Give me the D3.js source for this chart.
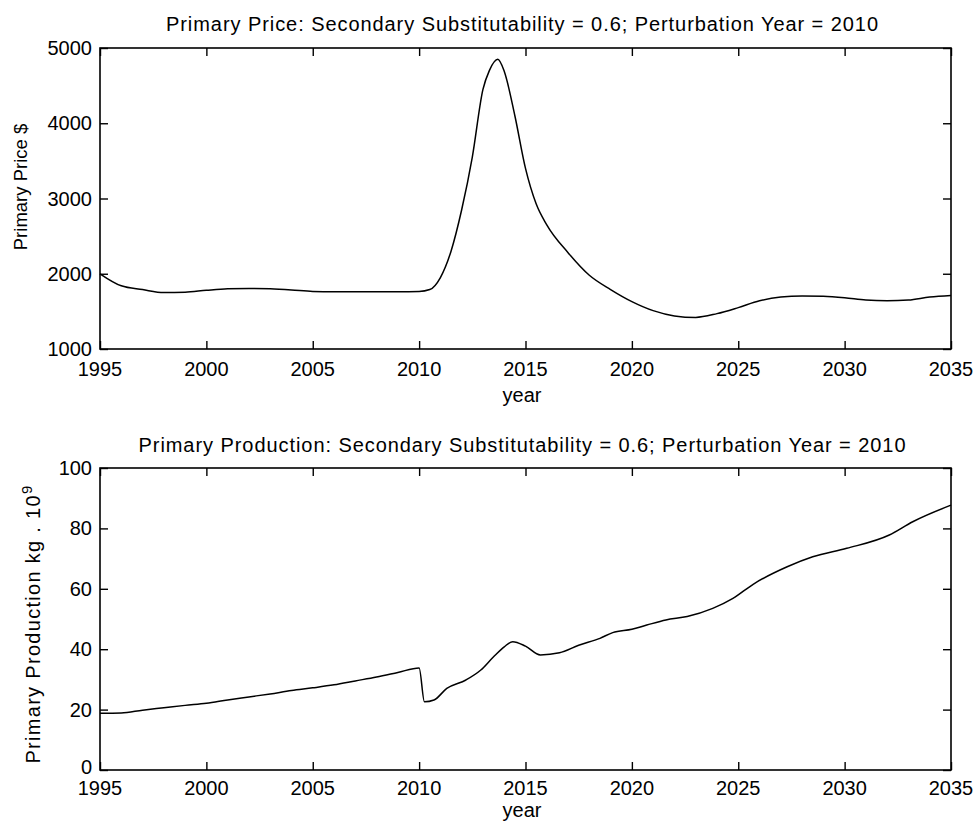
<!DOCTYPE html>
<html><head><meta charset="utf-8">
<script src="https://cdn.jsdelivr.net/npm/d3@7"></script>
<style>body{margin:0;background:#fff}svg{display:block}text{font-family:"Liberation Sans",Arial,sans-serif;fill:#000}</style>
</head><body>
<script>
const xTicks = [1995,2000,2005,2010,2015,2020,2025,2030,2035];
const priceTicks = [1000,2000,3000,4000,5000];
const prodTicks = [0,20,40,60,80,100];
const priceTitle = "Primary Price: Secondary Substitutability = 0.6; Perturbation Year = 2010";
const prodTitle = "Primary Production: Secondary Substitutability = 0.6; Perturbation Year = 2010";
const priceYears = [1995,1996,1997,1998,1999,2000,2001,2002,2003,2004,2005,2006,2007,2008,2009,2010,2010.5,2011,2011.5,2012,2012.5,2013,2013.3,2013.7,2014,2014.5,2015,2015.5,2016,2017,2018,2019,2020,2021,2022,2023,2024,2025,2026,2027,2028,2029,2030,2031,2032,2033,2034,2035];
const priceValues = [2000,1840,1790,1750,1755,1780,1800,1805,1800,1785,1765,1762,1762,1762,1762,1765,1790,1950,2300,2850,3550,4450,4700,4850,4690,4100,3400,2930,2650,2280,1980,1790,1630,1510,1440,1420,1470,1550,1640,1690,1705,1700,1680,1650,1640,1650,1690,1710];
const prodYears = [1995,1996,1997,1998,1999,2000,2001,2002,2003,2004,2005,2006,2007,2008,2009,2010,2010.25,2010.7,2011.3,2012.2,2012.9,2013.5,2014,2014.4,2015,2015.7,2016.6,2017.5,2018.5,2019.1,2020,2020.7,2021.6,2022.6,2023.8,2024.75,2025.7,2027.3,2028.5,2030.1,2032.1,2033.2,2035];
const prodValues = [18.8,18.9,19.8,20.6,21.4,22.1,23.2,24.2,25.2,26.3,27.2,28.2,29.5,30.8,32.3,33.8,22.6,23.2,27.0,29.8,33.1,37.5,40.8,42.5,41.0,38.1,38.8,41.3,43.6,45.5,46.6,48.0,49.7,50.8,53.5,56.8,61.5,67.3,70.6,73.4,77.8,82.2,87.7];

const W = 977, H = 831;
const svg = d3.select("body").append("svg").attr("width", W).attr("height", H);
const FS = 20;

function panel(cfg){
  const x = d3.scaleLinear().domain([1995,2035]).range([100,951]);
  const y = d3.scaleLinear().domain(cfg.ydomain).range([cfg.bottom, cfg.top]);
  const g = svg.append("g");
  const tl = 8;
  g.append("g").attr("transform",`translate(0,${cfg.bottom})`)
    .call(d3.axisTop(x).tickValues(xTicks).tickSize(tl).tickFormat(""))
    .call(a=>a.select(".domain").remove());
  g.append("g").attr("transform",`translate(0,${cfg.top})`)
    .call(d3.axisBottom(x).tickValues(xTicks).tickSize(tl).tickFormat(""))
    .call(a=>a.select(".domain").remove());
  g.append("g").attr("transform",`translate(100,0)`)
    .call(d3.axisRight(y).tickValues(cfg.yticks).tickSize(tl).tickFormat(""))
    .call(a=>a.select(".domain").remove());
  g.append("g").attr("transform",`translate(951,0)`)
    .call(d3.axisLeft(y).tickValues(cfg.yticks).tickSize(tl).tickFormat(""))
    .call(a=>a.select(".domain").remove());
  g.selectAll(".tick line").attr("stroke","#000").attr("stroke-width",1.4);
  g.append("rect").attr("x",100).attr("y",cfg.top).attr("width",851).attr("height",cfg.bottom-cfg.top)
    .attr("fill","none").attr("stroke","#000").attr("stroke-width",1.6);
  g.selectAll(".xl").data(xTicks).join("text").attr("x",d=>x(d)).attr("y",cfg.xlabY)
    .attr("text-anchor","middle").attr("font-size",FS).text(d=>d);
  g.selectAll(".yl").data(cfg.yticks).join("text").attr("x",92)
    .attr("y",(d,i)=>y(d)+7-(i===0?cfg.firstShift:0))
    .attr("text-anchor","end").attr("font-size",FS).text(d=>d);
  const line = d3.line().curve(d3.curveMonotoneX).x(d=>x(d[0])).y(d=>y(d[1]));
  g.append("path").datum(cfg.years.map((yr,i)=>[yr,cfg.values[i]]))
    .attr("d",line).attr("fill","none").attr("stroke","#000").attr("stroke-width",1.5);
  g.append("text").attr("x",522).attr("y",cfg.titleY).attr("text-anchor","middle").attr("font-size",20)
    .attr("textLength",cfg.titleLen).attr("lengthAdjust","spacing").text(cfg.title);
  g.append("text").attr("x",522).attr("y",cfg.yearY).attr("text-anchor","middle").attr("font-size",20).text("year");
  return {g,x,y};
}

const p1 = panel({top:48,bottom:349,ydomain:[1000,5000],yticks:priceTicks,years:priceYears,values:priceValues,
  title:priceTitle,titleY:31,titleLen:712,xlabY:376,yearY:402,firstShift:0});
p1.g.append("text").attr("transform",`translate(27,187) rotate(-90)`).attr("text-anchor","middle").attr("font-size",18.5).text("Primary Price $");

const p2 = panel({top:468,bottom:770,ydomain:[0,100],yticks:prodTicks,years:prodYears,values:prodValues,
  title:prodTitle,titleY:452,titleLen:767,xlabY:795,yearY:817,firstShift:3});
const yl = p2.g.append("text").attr("transform",`translate(40,624) rotate(-90)`).attr("text-anchor","middle")
  .attr("font-size",20).attr("letter-spacing",1.3);
yl.append("tspan").text("Primary Production kg . 10");
yl.append("tspan").attr("dy",-8).attr("font-size",15).text("9");
</script>
</body></html>
